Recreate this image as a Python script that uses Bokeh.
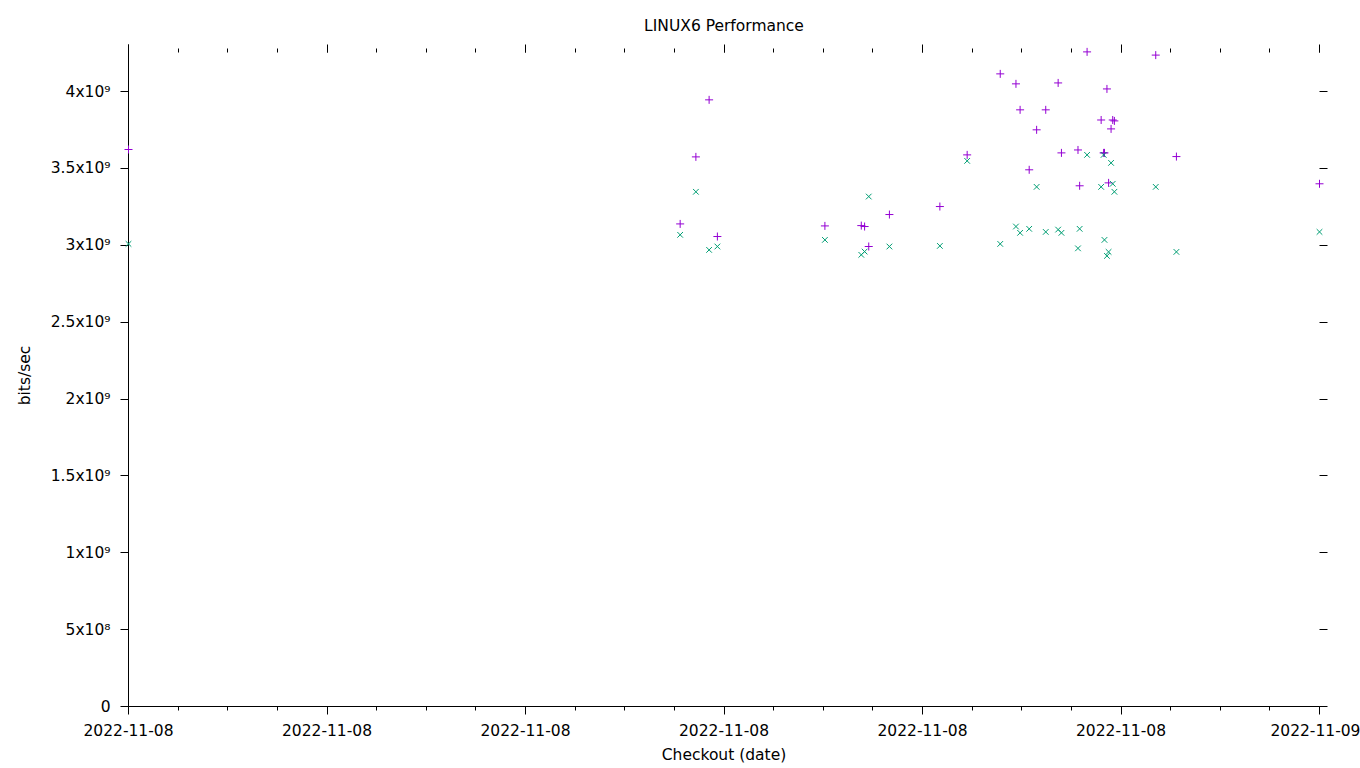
from bokeh.plotting import figure
from bokeh.models import (Range1d, FixedTicker, DatetimeTickFormatter, DatetimeAxis,
                          LinearAxis, ColumnDataSource)
from bokeh.embed import file_html
from bokeh.resources import INLINE
import pandas as pd

# ---- data ----
checkout_times = [
    "2022-11-08 00:00", "2022-11-08 11:07", "2022-11-08 11:26", "2022-11-08 11:42",
    "2022-11-08 11:52", "2022-11-08 14:02", "2022-11-08 14:46", "2022-11-08 14:50",
    "2022-11-08 14:55", "2022-11-08 15:20", "2022-11-08 16:21", "2022-11-08 16:54",
    "2022-11-08 17:34", "2022-11-08 17:53", "2022-11-08 17:58", "2022-11-08 18:09",
    "2022-11-08 18:18", "2022-11-08 18:29", "2022-11-08 18:44", "2022-11-08 18:48",
    "2022-11-08 19:08", "2022-11-08 19:10", "2022-11-08 19:19", "2022-11-08 19:36",
    "2022-11-08 19:39", "2022-11-08 19:40", "2022-11-08 19:43", "2022-11-08 19:45",
    "2022-11-08 19:48", "2022-11-08 19:50", "2022-11-08 19:52", "2022-11-08 20:42",
    "2022-11-08 21:07", "2022-11-09 00:00",
]
series_plus = [  # bits/sec, purple "+"
    3.623e9, 3.139e9, 3.575e9, 3.946e9, 3.057e9, 3.126e9, 3.128e9, 3.122e9,
    2.992e9, 3.200e9, 3.252e9, 3.588e9, 4.115e9, 4.050e9, 3.881e9, 3.491e9,
    3.751e9, 3.881e9, 4.056e9, 3.601e9, 3.620e9, 3.387e9, 4.258e9, 3.815e9,
    3.601e9, 3.601e9, 4.017e9, 3.406e9, 3.757e9, 3.815e9, 3.809e9, 4.237e9,
    3.577e9, 3.400e9,
]
series_x = [  # bits/sec, green "x"
    3.009e9, 3.068e9, 3.348e9, 2.970e9, 2.992e9, 3.035e9, 2.938e9, 2.959e9,
    3.317e9, 2.992e9, 2.996e9, 3.549e9, 3.009e9, 3.122e9, 3.081e9, 3.107e9,
    3.380e9, 3.087e9, 3.102e9, 3.081e9, 2.980e9, 3.107e9, 3.588e9, 3.380e9,
    3.588e9, 3.035e9, 2.931e9, 2.957e9, 3.536e9, 3.400e9, 3.348e9, 3.380e9,
    2.957e9, 3.087e9,
]
x_major_times = ["2022-11-08 00:00", "2022-11-08 04:00", "2022-11-08 08:00",
                 "2022-11-08 12:00", "2022-11-08 16:00", "2022-11-08 20:00",
                 "2022-11-09 00:00"]
y_ticks = [0, 500000000, 1000000000, 1500000000, 2000000000, 2500000000,
           3000000000, 3500000000, 4000000000]
y_tick_labels = ["0", "5x10\u2078", "1x10\u2079", "1.5x10\u2079", "2x10\u2079",
                 "2.5x10\u2079", "3x10\u2079", "3.5x10\u2079", "4x10\u2079"]
y_max = 4.306e9

FONT = "DejaVu Sans"
FS = "15.5px"

xs = pd.to_datetime(checkout_times)
src = ColumnDataSource(dict(t=xs, a=series_plus, b=series_x))

major_ts = pd.to_datetime(x_major_times)
major_ms = [int(t.value // 10**6) for t in major_ts]
minor_ms = [int(t.value // 10**6) for t in pd.date_range(major_ts[0], major_ts[-1], freq="1h")]

p = figure(width=1360, height=768, x_axis_type="datetime",
           x_range=Range1d(major_ts[0].to_pydatetime(), major_ts[-1].to_pydatetime()),
           y_range=Range1d(0, y_max),
           output_backend="svg", toolbar_location=None,
           title="LINUX6 Performance",
           min_border_left=128, min_border_right=41, min_border_top=44, min_border_bottom=62)

p.background_fill_color = "white"
p.border_fill_color = "white"
p.outline_line_color = None
p.xgrid.grid_line_color = None
p.ygrid.grid_line_color = None

p.title.align = "center"
p.title.text_font = FONT
p.title.text_font_size = FS
p.title.text_font_style = "normal"
p.title.text_color = "black"
p.title.standoff = 19

ticker_x = FixedTicker(ticks=major_ms, minor_ticks=minor_ms)
fmt = DatetimeTickFormatter(
    microseconds="%Y-%m-%d", milliseconds="%Y-%m-%d", seconds="%Y-%m-%d",
    minsec="%Y-%m-%d", minutes="%Y-%m-%d", hourmin="%Y-%m-%d", hours="%Y-%m-%d",
    days="%Y-%m-%d", months="%Y-%m-%d", years="%Y-%m-%d")

xa = p.xaxis[0]
xa.ticker = ticker_x
xa.formatter = fmt
xa.axis_label = "Checkout (date)"
xa.axis_label_text_font = FONT
xa.axis_label_text_font_size = FS
xa.axis_label_text_font_style = "normal"
xa.axis_label_text_color = "black"
xa.axis_label_standoff = 7
xa.major_label_text_font = FONT
xa.major_label_text_font_size = FS
xa.major_label_text_color = "black"
xa.major_label_standoff = 9
xa.major_tick_out = 8
xa.major_tick_in = 0
xa.minor_tick_out = 4
xa.minor_tick_in = 0
xa.axis_line_color = "black"
xa.major_tick_line_color = "black"
xa.minor_tick_line_color = "black"

ya = p.yaxis[0]
ya.ticker = FixedTicker(ticks=y_ticks, minor_ticks=[])
ya.major_label_overrides = {t: l for t, l in zip(y_ticks, y_tick_labels)}
ya.axis_label = "bits/sec"
ya.axis_label_text_font = FONT
ya.axis_label_text_font_size = FS
ya.axis_label_text_font_style = "normal"
ya.axis_label_text_color = "black"
ya.axis_label_standoff = 14
ya.major_label_text_font = FONT
ya.major_label_text_font_size = FS
ya.major_label_text_color = "black"
ya.major_label_standoff = 10
ya.major_tick_out = 8
ya.major_tick_in = 0
ya.minor_tick_line_color = None
ya.axis_line_color = "black"
ya.major_tick_line_color = "black"

top = DatetimeAxis(ticker=ticker_x, formatter=fmt)
top.axis_line_color = None
top.major_label_overrides = {t: "" for t in major_ms}
top.major_label_text_font_size = "1px"
top.major_label_standoff = 0
top.major_tick_in = 8
top.major_tick_out = 0
top.minor_tick_in = 8
top.minor_tick_out = -4
top.major_tick_line_color = "black"
top.minor_tick_line_color = "black"
p.add_layout(top, "above")

right = LinearAxis(ticker=FixedTicker(ticks=y_ticks, minor_ticks=[]))
right.axis_line_color = None
right.major_label_overrides = {t: "" for t in y_ticks}
right.major_label_text_font_size = "1px"
right.major_label_standoff = 0
right.major_tick_out = 8
right.major_tick_in = 0
right.minor_tick_line_color = None
right.major_tick_line_color = "black"
p.add_layout(right, "right")

r1 = p.scatter(x="t", y="a", source=src, marker="cross", size=8,
               line_color="#9400d3", line_width=1)
r2 = p.scatter(x="t", y="b", source=src, marker="x", size=8,
               line_color="#009e73", line_width=1)
r1.level = "overlay"
r2.level = "overlay"

open("out.html", "w").write(file_html(p, INLINE))
